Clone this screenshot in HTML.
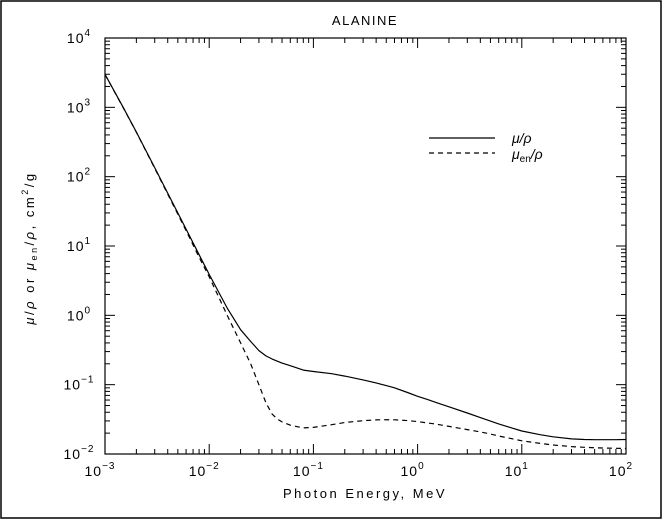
<!DOCTYPE html>
<html><head><meta charset="utf-8"><style>
body{margin:0;background:#fff}
svg{display:block;font-family:"Liberation Sans",sans-serif}
text{fill:#000}
</style></head><body>
<svg width="666" height="520">
<rect x="1" y="1" width="660" height="517" fill="none" stroke="#000" stroke-width="1.5"/>
<g id="axes"></g>
<g id="plot"></g>
<text x="365" y="25" text-anchor="middle" font-size="13" letter-spacing="1.5">ALANINE</text>
<text x="365" y="498" text-anchor="middle" font-size="13" letter-spacing="2.5">Photon Energy, MeV</text>
<text transform="translate(34,248) rotate(-90)" text-anchor="middle" font-size="13" letter-spacing="2.5"><tspan font-style="italic">μ</tspan>/<tspan font-style="italic">ρ</tspan> or <tspan font-style="italic">μ</tspan><tspan font-size="9" dy="3">en</tspan><tspan dy="-3">/</tspan><tspan font-style="italic">ρ</tspan>, cm<tspan font-size="9" dy="-6">2</tspan><tspan dy="6">/g</tspan></text>
<g>
<line x1="429" y1="138" x2="495" y2="138" stroke="#000" stroke-width="1.2"/>
<line x1="429" y1="153" x2="495" y2="153" stroke="#000" stroke-width="1.2" stroke-dasharray="5,4"/>
<text x="512" y="143" font-size="14" font-style="italic">μ/ρ</text>
<text x="512" y="159" font-size="14" font-style="italic">μ<tspan font-size="10" font-style="normal" dy="3">en</tspan><tspan dy="-3">/ρ</tspan></text>
</g>
</svg>
<script>
const energies=[0.001,0.0015,0.002,0.003,0.004,0.005,0.006,0.008,0.01,0.015,0.02,0.025,0.03,0.035,0.04,0.045,0.05,0.06,0.08,0.1,0.15,0.2,0.3,0.4,0.5,0.6,0.8,1,1.25,1.5,2,3,4,5,6,8,10,15,20,30,40,50,60,80,100];
const muValues=[3000,990,440,135,58,30,17.5,7.5,3.9,1.25,0.62,0.42,0.31,0.26,0.235,0.218,0.205,0.188,0.162,0.155,0.144,0.133,0.117,0.106,0.097,0.09,0.077,0.068,0.061,0.0555,0.048,0.039,0.0335,0.0298,0.0272,0.0238,0.0215,0.019,0.0177,0.0165,0.0162,0.0161,0.0161,0.0161,0.0162];
const muenValues=[2980,985,436,132,56,28.8,16.6,6.9,3.6,0.98,0.40,0.2,0.1,0.055,0.038,0.032,0.029,0.026,0.0238,0.0242,0.0265,0.0285,0.0302,0.031,0.0312,0.0311,0.0303,0.0293,0.028,0.027,0.025,0.0225,0.0208,0.0194,0.0182,0.0166,0.0155,0.0142,0.0135,0.0128,0.0125,0.0123,0.0122,0.0121,0.012];
const xTickExps=[-3,-2,-1,0,1,2];
const yTickExps=[-2,-1,0,1,2,3,4];
const L=105,R=626,T=38,B=454,NS='http://www.w3.org/2000/svg';
const xS=v=>L+(Math.log10(v)+3)/5*(R-L);
const yS=v=>B-(Math.log10(v)+2)/6*(B-T);
const axes=document.getElementById('axes'),plot=document.getElementById('plot');
function mk(t,a,p){const e=document.createElementNS(NS,t);for(const k in a)e.setAttribute(k,a[k]);p.appendChild(e);return e;}
const frame=mk('rect',{x:L,y:T,width:R-L,height:B-T,fill:'none',stroke:'#000','stroke-width':1.2},axes);


for(let i=0;i<xTickExps.length;i++){const e=xTickExps[i];
 for(let m=1;m<=9;m++){if(e===2&&m>1)break;const x=xS(m*Math.pow(10,e));const len=m===1?10:5;
  const t1=mk('line',{x1:x,y1:B,x2:x,y2:B-len,stroke:'#000'},axes);
  
  
  const t2=mk('line',{x1:x,y1:T,x2:x,y2:T+len,stroke:'#000'},axes);
  
  }
 const lb=mk('text',{x:xS(Math.pow(10,e))-5,y:B+22,'text-anchor':'middle','font-size':14,'letter-spacing':1},axes);
 
 
 lb.innerHTML='10<tspan font-size="10" dy="-7">'+(e<0?'−'+(-e):e)+'</tspan>';}
for(let i=0;i<yTickExps.length;i++){const e=yTickExps[i];
 for(let m=1;m<=9;m++){if(e===4&&m>1)break;const y=yS(m*Math.pow(10,e));const len=m===1?10:5;
  const t1=mk('line',{x1:L,y1:y,x2:L+len,y2:y,stroke:'#000'},axes);
  
  
  const t2=mk('line',{x1:R,y1:y,x2:R-len,y2:y,stroke:'#000'},axes);
  
  }
 const lb=mk('text',{x:L-26,y:yS(Math.pow(10,e))+5,'text-anchor':'middle','font-size':14,'letter-spacing':1},axes);
 
 
 lb.innerHTML='10<tspan font-size="10" dy="-7">'+(e<0?'−'+(-e):e)+'</tspan>';}
function line(vals,dash,name){const d=energies.map((x,i)=>(i?'L':'M')+xS(x).toFixed(1)+','+yS(vals[i]).toFixed(1)).join('');
 const p=mk('path',{d:d,fill:'none',stroke:'#000','stroke-width':1.2,'stroke-linejoin':'round'},plot);if(dash)p.setAttribute('stroke-dasharray','5,4');
 
 }
line(muValues,false,'mu-rho-line');
line(muenValues,true,'muen-rho-line');
</script>
</body></html>
